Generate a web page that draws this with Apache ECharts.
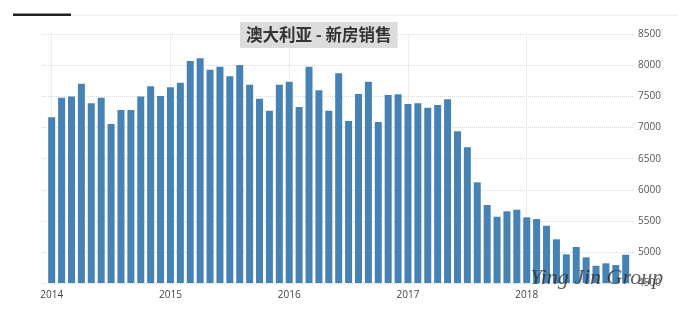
<!DOCTYPE html>
<html>
<head>
<meta charset="utf-8">
<script src="https://cdn.jsdelivr.net/npm/echarts@6/dist/echarts.min.js"></script>
<style>
html,body{margin:0;padding:0;background:#fff;}
#c{width:678px;height:310px;}
</style>
</head>
<body>
<div id="c"></div>
<script>
// Months Jan 2014 – Nov 2018
const months = [
  '2014-01','2014-02','2014-03','2014-04','2014-05','2014-06','2014-07','2014-08','2014-09','2014-10','2014-11','2014-12',
  '2015-01','2015-02','2015-03','2015-04','2015-05','2015-06','2015-07','2015-08','2015-09','2015-10','2015-11','2015-12',
  '2016-01','2016-02','2016-03','2016-04','2016-05','2016-06','2016-07','2016-08','2016-09','2016-10','2016-11','2016-12',
  '2017-01','2017-02','2017-03','2017-04','2017-05','2017-06','2017-07','2017-08','2017-09','2017-10','2017-11','2017-12',
  '2018-01','2018-02','2018-03','2018-04','2018-05','2018-06','2018-07','2018-08','2018-09','2018-10','2018-11'
];
// New home sales (units)
const sales = [
  7165, 7480, 7500, 7706, 7390, 7480, 7058, 7283, 7283, 7500, 7664, 7510,
  7648, 7722, 8071, 8114, 7931, 7979, 7825, 8006, 7690, 7464, 7272, 7690,
  7738, 7331, 7979, 7599, 7272, 7873, 7106, 7540, 7738, 7090, 7524, 7535,
  7379, 7390, 7320, 7363, 7455, 6940, 6683, 6120, 5755, 5567, 5654, 5680,
  5557, 5530, 5422, 5204, 4962, 5080, 4914, 4779, 4818, 4790, 4956
];
const yTicks = [4500, 5000, 5500, 6000, 6500, 7000, 7500, 8000, 8500];
const titleText = '澳大利亚 - 新房销售';
const watermark = 'Ying Jin Group';

const yMin = yTicks[0], yMax = yTicks[yTicks.length - 1], yStep = yTicks[1] - yTicks[0];
const font = '"Open Sans", "Noto Sans", sans-serif';
const gridLine = { show: true, lineStyle: { color: '#d9d9d9', type: 'dotted', width: 1 } };

const chart = echarts.init(document.getElementById('c'), null, { renderer: 'canvas' });
chart.setOption({
  animation: false,
  backgroundColor: '#fff',
  title: {
    text: titleText,
    left: 240, top: 22,
    backgroundColor: '#dcdcdc',
    padding: [4, 6, 4, 6],
    textStyle: { fontFamily: '"Noto Sans CJK SC", sans-serif', fontSize: 16.5, fontWeight: 'bold', color: '#333', lineHeight: 18 }
  },
  grid: [
    { left: 42, right: 45, top: 34.3, bottom: 26.9 },      // horizontal gridlines + y labels
    { left: 51.7, right: 52.3, top: 34.3, bottom: 26.9 },  // vertical gridlines + year labels
    { left: 46.75, right: 47.35, top: 34.3, bottom: 26.9 } // bars
  ],
  xAxis: [
    { gridIndex: 0, type: 'category', data: months, show: false },
    {
      gridIndex: 1, type: 'category', data: months, boundaryGap: false,
      axisLine: { show: false }, axisTick: { show: false },
      axisLabel: {
        interval: (i) => i % 12 === 0,
        formatter: (v) => v.slice(0, 4),
        color: '#444', fontSize: 10, fontFamily: font, margin: 7
      },
      splitLine: { show: true, interval: (i) => i % 12 === 0, lineStyle: { color: '#dedede', type: 'dotted', width: 1 } }
    },
    { gridIndex: 2, type: 'category', data: months, show: false }
  ],
  yAxis: [
    {
      gridIndex: 0, type: 'value', position: 'right', min: yMin, max: yMax, interval: yStep,
      axisLine: { show: false }, axisTick: { show: false },
      axisLabel: { color: '#555', fontSize: 10, fontFamily: font, margin: 5, formatter: (v) => String(v) },
      splitLine: gridLine
    },
    { gridIndex: 1, type: 'value', min: yMin, max: yMax, interval: yStep, show: false, splitLine: { show: false } },
    { gridIndex: 2, type: 'value', min: yMin, max: yMax, interval: yStep, show: false, splitLine: { show: false } }
  ],
  series: [
    {
      type: 'bar', xAxisIndex: 2, yAxisIndex: 2, data: sales,
      barWidth: 7, itemStyle: { color: '#4682b4' }
    }
  ],
  graphic: [
    { type: 'rect', left: 71, top: 14.5, shape: { width: 607, height: 1 }, style: { fill: '#ececec' }, z: 1 },
    { type: 'rect', left: 13, top: 13.5, shape: { width: 58, height: 2.5 }, style: { fill: '#222' }, z: 2 },
    {
      type: 'text', left: 530, top: 267, z: 100,
      style: { text: watermark, font: 'italic 22px "Liberation Serif", "DejaVu Serif", serif', fill: 'rgba(40,40,40,0.75)' }
    }
  ]
});
</script>
</body>
</html>
